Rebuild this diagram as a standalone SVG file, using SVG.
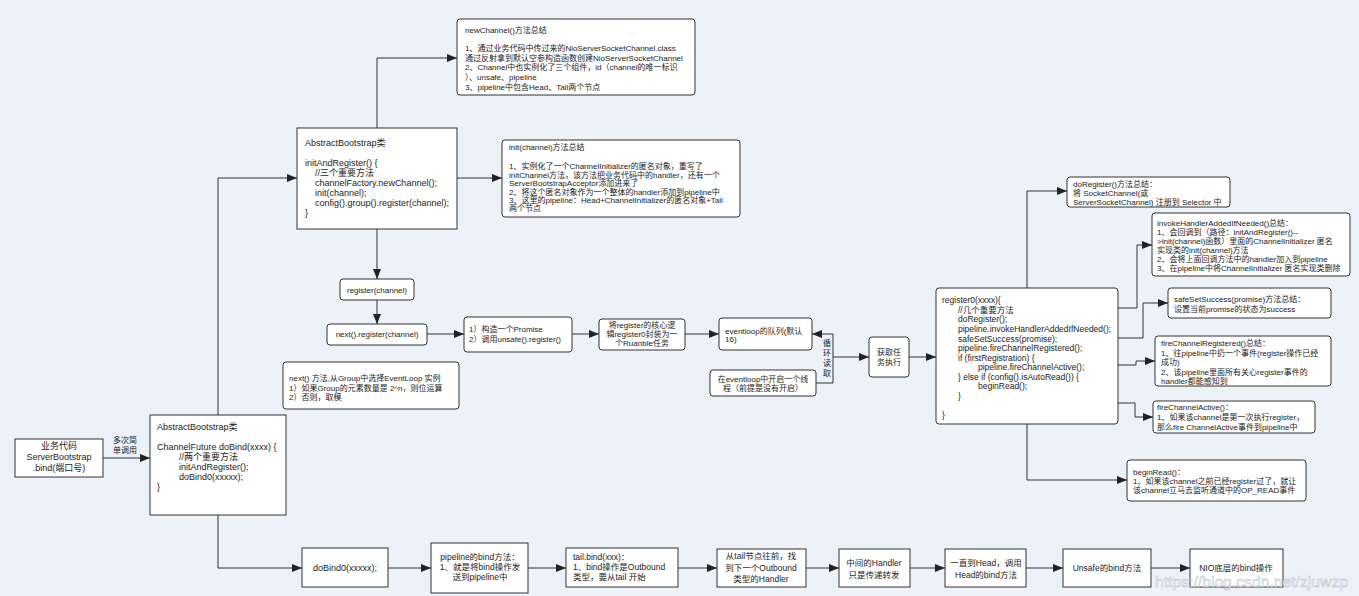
<svg xmlns="http://www.w3.org/2000/svg" width="1359" height="596" viewBox="0 0 1359 596">
<defs>
<marker id="ah" viewBox="0 0 10 8" refX="10" refY="4" markerWidth="10" markerHeight="8" markerUnits="userSpaceOnUse" orient="auto">
<path d="M0,0 L10,4 L0,8 z" fill="#222"/>
</marker>
</defs>
<style>
.bx{fill:#fff;stroke:#333;stroke-width:1}
.t{font-family:"Liberation Sans","Noto Sans CJK SC",sans-serif;font-size:8px;fill:#222}
.t9{font-size:9px}
.t85{font-size:8.5px}
.c{text-anchor:middle}
.ln{fill:none;stroke:#333;stroke-width:1;marker-end:url(#ah)}
</style>
<rect x="0" y="0" width="1359" height="596" fill="#edf1f8"/>

<g id="connectors">
<path class="ln" d="M103,458 H150"/>
<path class="ln" d="M218,415 V178 H297"/>
<path class="ln" d="M218,515 V568 H302"/>
<path class="ln" d="M377,128 V58 H457"/>
<path class="ln" d="M457,178 H502"/>
<path class="ln" d="M377,229 V279"/>
<path class="ln" d="M377,300 V324"/>
<path class="ln" d="M427,334 H464"/>
<path class="ln" d="M572,334 H599"/>
<path class="ln" d="M685,334 H719"/>
<path class="ln" d="M816,383 H833 V334 H812"/>
<path class="ln" d="M833,357 H869"/>
<path class="ln" d="M909,357 H936"/>
<path class="ln" d="M1027,288 V191 H1067"/>
<path class="ln" d="M1118,308 H1137 V245 H1152"/>
<path class="ln" d="M1118,338 H1143 V303 H1168"/>
<path class="ln" d="M1118,365 H1136 V361 H1155"/>
<path class="ln" d="M1118,403 H1135 V417 H1153"/>
<path class="ln" d="M1027,424 V480 H1127"/>
<path class="ln" d="M388,568 H431"/>
<path class="ln" d="M528,568 H566"/>
<path class="ln" d="M678,568 H717"/>
<path class="ln" d="M806,568 H839"/>
<path class="ln" d="M910,568 H945"/>
<path class="ln" d="M1026,568 H1063"/>
<path class="ln" d="M1151,568 H1190"/>
<text class="t c" x="827"><tspan x="827" y="346">循</tspan><tspan x="827" y="356">环</tspan><tspan x="827" y="366">读</tspan><tspan x="827" y="376">取</tspan></text>
<text class="t c" x="125"><tspan x="125" y="443">多次简</tspan><tspan x="125" y="453">单调用</tspan></text>
</g>

<g id="n-biz">
<rect class="bx" x="15" y="439" width="88" height="38"/>
<text class="t t9 c"><tspan x="59" y="449">业务代码</tspan><tspan x="59" y="460">ServerBootstrap</tspan><tspan x="59" y="471">.bind(端口号)</tspan></text>
</g>

<g id="n-ab-bottom">
<rect class="bx" x="150" y="415" width="136" height="100"/>
<text class="t t9"><tspan x="157" y="430">AbstractBootstrap类</tspan><tspan x="157" y="450">ChannelFuture doBind(xxxx) {</tspan><tspan x="179" y="460">//两个重要方法</tspan><tspan x="179" y="470">initAndRegister();</tspan><tspan x="179" y="480">doBind0(xxxxx);</tspan><tspan x="157" y="490">}</tspan></text>
</g>

<g id="n-ab-top">
<rect class="bx" x="297" y="128" width="160" height="101"/>
<text class="t t9"><tspan x="305" y="146">AbstractBootstrap类</tspan><tspan x="305" y="166">initAndRegister() {</tspan><tspan x="315" y="176">//三个重要方法</tspan><tspan x="315" y="186">channelFactory.newChannel();</tspan><tspan x="315" y="196">init(channel);</tspan><tspan x="315" y="206">config().group().register(channel);</tspan><tspan x="305" y="216">}</tspan></text>
</g>

<g id="n-newchannel">
<rect class="bx" x="457" y="19" width="238" height="76" rx="3"/>
<text class="t"><tspan x="465" y="33">newChannel()方法总结</tspan><tspan x="465" y="51">1、通过业务代码中传过来的NioServerSocketChannel.class</tspan><tspan x="465" y="61">通过反射拿到默认空参构造函数创建NioServerSocketChannel</tspan><tspan x="465" y="70">2、Channel中也实例化了三个组件，id（channel的唯一标识</tspan><tspan x="465" y="80">）、unsafe、pipeline</tspan><tspan x="465" y="90">3、pipeline中包含Head、Tail两个节点</tspan></text>
</g>

<g id="n-init">
<rect class="bx" x="502" y="140" width="238" height="77" rx="3"/>
<text class="t"><tspan x="509" y="150">init(channel)方法总结</tspan><tspan x="509" y="169">1、实例化了一个ChannelInitializer的匿名对象，重写了</tspan><tspan x="509" y="177.5">initChannel方法，该方法把业务代码中的handler，还有一个</tspan><tspan x="509" y="186">ServerBootstrapAcceptor添加进来了</tspan><tspan x="509" y="194.5">2、将这个匿名对象作为一个整体的handler添加到pipeline中</tspan><tspan x="509" y="203">3、这里的pipeline：Head+ChannelInitializer的匿名对象+Tail</tspan><tspan x="509" y="211">两个节点</tspan></text>
</g>

<g id="n-register">
<rect class="bx" x="340" y="279" width="74" height="21" rx="3"/>
<text class="t c" x="377" y="293">register(channel)</text>
</g>

<g id="n-next">
<rect class="bx" x="327" y="324" width="100" height="21" rx="3"/>
<text class="t c" x="377" y="337">next().register(channel)</text>
</g>

<g id="n-next-note">
<rect class="bx" x="283" y="362" width="176" height="47" rx="3"/>
<text class="t"><tspan x="289" y="381">next() 方法,从Group中选择EventLoop 实例</tspan><tspan x="289" y="391">1）如果Group的元素数量是 2^n，则位运算</tspan><tspan x="289" y="400">2）否则，取模</tspan></text>
</g>

<g id="n-promise">
<rect class="bx" x="464" y="317" width="108" height="35" rx="3"/>
<text class="t"><tspan x="469" y="332">1）构造一个Promise</tspan><tspan x="469" y="342">2）调用unsafe().register()</tspan></text>
</g>

<g id="n-wrap">
<rect class="bx" x="599" y="319" width="86" height="31" rx="3"/>
<text class="t c"><tspan x="642" y="328">将register的核心逻</tspan><tspan x="642" y="337">辑register0封装为一</tspan><tspan x="642" y="346">个Ruanble任务</tspan></text>
</g>

<g id="n-queue">
<rect class="bx" x="719" y="318" width="93" height="32" rx="3"/>
<text class="t"><tspan x="725" y="334">eventloop的队列(默认</tspan><tspan x="725" y="342">16)</tspan></text>
</g>

<g id="n-thread">
<rect class="bx" x="710" y="370" width="106" height="26" rx="3"/>
<text class="t c"><tspan x="763" y="382">在eventloop中开启一个线</tspan><tspan x="763" y="391">程（前提是没有开启）</tspan></text>
</g>

<g id="n-fetch">
<rect class="bx" x="869" y="337" width="40" height="40" rx="3"/>
<text class="t c"><tspan x="889" y="355">获取任</tspan><tspan x="889" y="365">务执行</tspan></text>
</g>

<g id="n-register0">
<rect class="bx" x="936" y="288" width="182" height="136" rx="3"/>
<text class="t t85"><tspan x="942" y="303">register0(xxxx){</tspan><tspan x="958" y="313">//几个重要方法</tspan><tspan x="958" y="322">doRegister();</tspan><tspan x="958" y="332">pipeline.invokeHandlerAddedIfNeeded();</tspan><tspan x="958" y="342">safeSetSuccess(promise);</tspan><tspan x="958" y="351">pipeline.fireChannelRegistered();</tspan><tspan x="958" y="361">if (firstRegistration) {</tspan><tspan x="978" y="370">pipeline.fireChannelActive();</tspan><tspan x="958" y="380">} else if (config().isAutoRead()) {</tspan><tspan x="978" y="389">beginRead();</tspan><tspan x="958" y="399">}</tspan><tspan x="942" y="418">}</tspan></text>
</g>

<g id="n-doregister">
<rect class="bx" x="1067" y="177" width="163" height="30" rx="3"/>
<text class="t"><tspan x="1073" y="187">doRegister()方法总结：</tspan><tspan x="1073" y="196">将 SocketChannel(或</tspan><tspan x="1073" y="205">ServerSocketChannel) 注册到 Selector 中</tspan></text>
</g>

<g id="n-invoke">
<rect class="bx" x="1152" y="213" width="198" height="63" rx="3"/>
<text class="t"><tspan x="1157" y="226">invokeHandlerAddedIfNeeded()总结：</tspan><tspan x="1157" y="235">1、会回调到（路径：initAndRegister()--</tspan><tspan x="1157" y="244">&gt;init(channel)函数）里面的ChannelInitializer 匿名</tspan><tspan x="1157" y="253">实现类的init(channel)方法</tspan><tspan x="1157" y="262">2、会将上面回调方法中的handler加入到pipeline</tspan><tspan x="1157" y="271">3、在pipeline中将ChannelInitializer 匿名实现类删除</tspan></text>
</g>

<g id="n-safeset">
<rect class="bx" x="1168" y="288" width="163" height="30" rx="3"/>
<text class="t"><tspan x="1174" y="302">safeSetSuccess(promise)方法总结：</tspan><tspan x="1174" y="312">设置当前promise的状态为success</tspan></text>
</g>

<g id="n-fireregistered">
<rect class="bx" x="1155" y="336" width="176" height="50" rx="3"/>
<text class="t"><tspan x="1161" y="346">fireChannelRegistered()总结：</tspan><tspan x="1161" y="356">1、往pipeline中扔一个事件(register操作已经</tspan><tspan x="1161" y="365">成功)</tspan><tspan x="1161" y="375">2、该pipeline里面所有关心register事件的</tspan><tspan x="1161" y="384">handler都能感知到</tspan></text>
</g>

<g id="n-fireactive">
<rect class="bx" x="1153" y="401" width="162" height="32" rx="3"/>
<text class="t"><tspan x="1157" y="410">fireChannelActive()：</tspan><tspan x="1157" y="420">1、如果该channel是第一次执行register，</tspan><tspan x="1157" y="430">那么fire ChannelActive事件到pipeline中</tspan></text>
</g>

<g id="n-beginread">
<rect class="bx" x="1127" y="460" width="179" height="41" rx="3"/>
<text class="t"><tspan x="1133" y="475">beginRead()：</tspan><tspan x="1133" y="484">1、如果该channel之前已经register过了，就让</tspan><tspan x="1133" y="493">该channel立马去监听通道中的OP_READ事件</tspan></text>
</g>

<g id="n-dobind0">
<rect class="bx" x="302" y="548" width="86" height="39"/>
<text class="t t9 c" x="345" y="571">doBind0(xxxxx);</text>
</g>

<g id="n-pipebind">
<rect class="bx" x="431" y="543" width="97" height="50"/>
<text class="t t85 c"><tspan x="480" y="560">pipeline的bind方法：</tspan><tspan x="480" y="570">1、就是将bind操作发</tspan><tspan x="480" y="580">送到pipeline中</tspan></text>
</g>

<g id="n-tailbind">
<rect class="bx" x="566" y="548" width="112" height="39"/>
<text class="t t85"><tspan x="573" y="560">tail.bind(xxx)：</tspan><tspan x="573" y="570">1、bind操作是Outbound</tspan><tspan x="573" y="580">类型，要从tail 开始</tspan></text>
</g>

<g id="n-fromtail">
<rect class="bx" x="717" y="549" width="89" height="38"/>
<text class="t t85 c"><tspan x="761" y="559">从tail节点往前，找</tspan><tspan x="761" y="571">到下一个Outbound</tspan><tspan x="761" y="582">类型的Handler</tspan></text>
</g>

<g id="n-middle">
<rect class="bx" x="839" y="549" width="71" height="38"/>
<text class="t t85 c"><tspan x="874" y="566">中间的Handler</tspan><tspan x="874" y="578">只是传递转发</tspan></text>
</g>

<g id="n-head">
<rect class="bx" x="945" y="549" width="81" height="38"/>
<text class="t t85 c"><tspan x="986" y="566">一直到Head，调用</tspan><tspan x="986" y="578">Head的bind方法</tspan></text>
</g>

<g id="n-unsafe">
<rect class="bx" x="1063" y="549" width="88" height="38"/>
<text class="t t85 c" x="1107" y="571">Unsafe的bind方法</text>
</g>

<g id="n-nio">
<rect class="bx" x="1190" y="549" width="93" height="38"/>
<text class="t t85 c" x="1236" y="571">NIO底层的bind操作</text>
</g>

<text x="1155" y="587" font-family="Liberation Sans, sans-serif" font-size="15.5" textLength="193" lengthAdjust="spacingAndGlyphs" fill="#ffffff" fill-opacity="0.8" stroke="#b8bcc4" stroke-width="0.5">https://blog.csdn.net/zjuwzp</text>
</svg>
